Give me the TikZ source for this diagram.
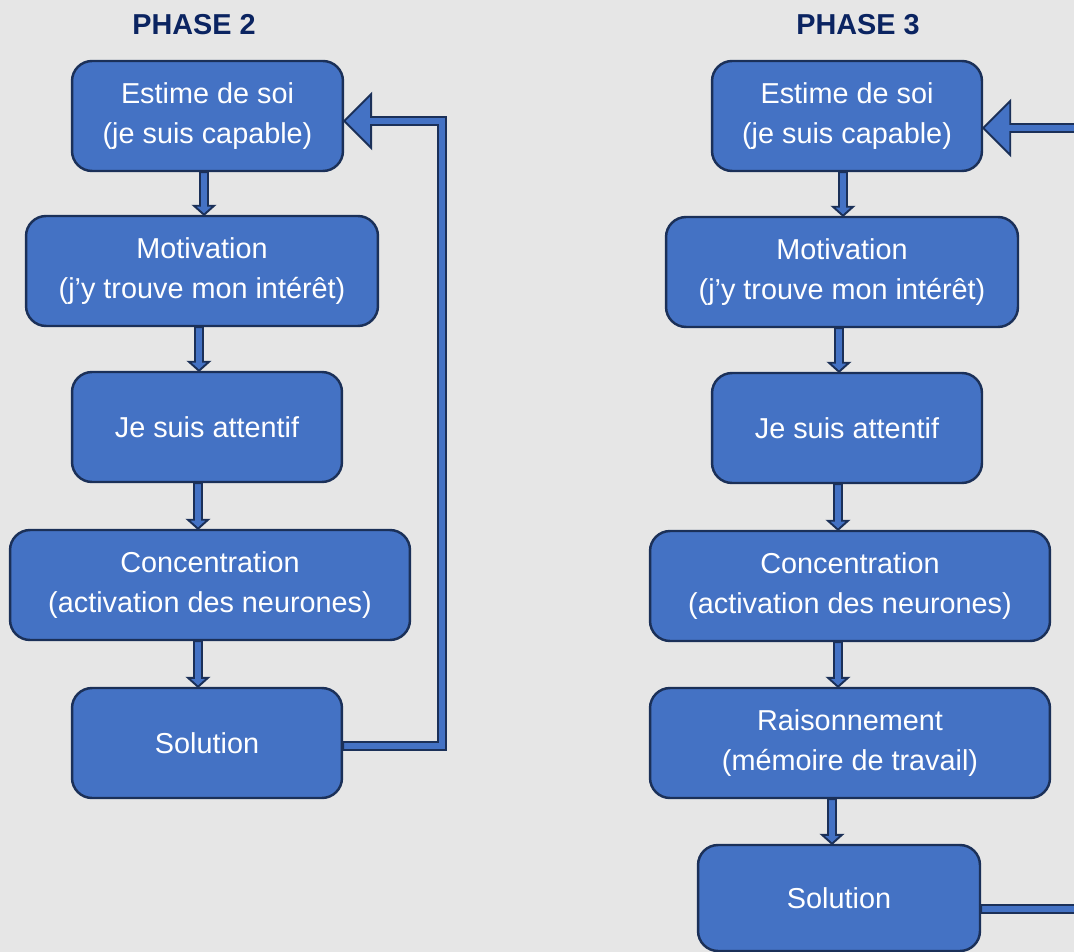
\documentclass[tikz,border=0pt]{standalone}
\usepackage{fontspec}
\setmainfont{Liberation Sans}
\usetikzlibrary{calc}
\definecolor{bgrey}{HTML}{E6E6E6}
\definecolor{boxblue}{HTML}{4472C4}
\definecolor{boxline}{HTML}{1B3058}
\definecolor{titleblue}{HTML}{0B2461}

% block arrow pointing down, from the bottom of #1 to the top of #2, shifted by #3
\newcommand{\blockdown}[3]{%
  \path ($(#1.south)+(#3,0)$) coordinate (bd1);
  \path (bd1 |- #2.north) coordinate (bd2);
  \draw[blk] ($(bd1)+(-4,0)$) -- ($(bd2)+(-4,-9)$) -- ($(bd2)+(-10,-9)$) -- (bd2)
    -- ($(bd2)+(10,-9)$) -- ($(bd2)+(4,-9)$) -- ($(bd1)+(4,0)$) -- cycle;}
% block arrow from the right of #1 round column #3 back into the right of #2
\newcommand{\blockloop}[5]{%
  \path ($(#1.east)+(0,#4)$) coordinate (bl1) ($(#2.east)+(0,#5)$) coordinate (bl2);
  \draw[blk] ($(bl1)+(0,-4)$) -- ($(bl1 -| #3)+(-4,-4)$) -- ($(bl2 -| #3)+(-4,4)$)
    -- ($(bl2)+(27,4)$) -- ($(bl2)+(27,27)$) -- (bl2) -- ($(bl2)+(27,-27)$)
    -- ($(bl2)+(27,-4)$) -- ($(bl2 -| #3)+(4,-4)$) -- ($(bl1 -| #3)+(4,4)$)
    -- ($(bl1)+(0,4)$) -- cycle;}

\begin{document}
\begin{tikzpicture}[x=0.02cm,y=-0.02cm,
  box/.style={draw=boxline,fill=boxblue,line width=1.4pt,rounded corners=0.4cm,align=center,
    text=white,font=\fontsize{16.4}{23.2}\selectfont,minimum height=2.2cm,inner sep=0pt},
  blk/.style={draw=boxline,fill=boxblue,line width=1.1pt,line join=miter},
  phase/.style={font=\fontsize{16.4}{20}\selectfont\bfseries,text=titleblue}]
\useasboundingbox (0,0) rectangle (1074,952);
\fill[bgrey] (0,0) rectangle (1074,952);
\clip (0,0) rectangle (1074,952);
% phase 2
\node[phase] (p2) at (194,25) {PHASE 2};
\node[box,minimum width=5.42cm] (est2) at (207.5,116) {Estime de soi\\(je suis capable)};
\node[box,minimum width=7.04cm] (mot2) at (202,271) {Motivation\\(j’y trouve mon intérêt)};
\node[box,minimum width=5.4cm] (att2) at (207,427) {Je suis attentif};
\node[box,minimum width=8cm] (con2) at (210,585) {Concentration\\(activation des neurones)};
\node[box,minimum width=5.4cm] (sol2) at (207,743) {Solution};
\coordinate (colL) at (442,0);
\blockdown{est2}{mot2}{-3.5}
\blockdown{mot2}{att2}{-3}
\blockdown{att2}{con2}{-9}
\blockdown{con2}{sol2}{-12}
\blockloop{sol2}{est2}{colL}{3}{5}
% phase 3
\node[phase] (p3) at (858,25) {PHASE 3};
\node[box,minimum width=5.4cm] (est3) at (847,116) {Estime de soi\\(je suis capable)};
\node[box,minimum width=7.04cm] (mot3) at (842,272) {Motivation\\(j’y trouve mon intérêt)};
\node[box,minimum width=5.4cm] (att3) at (847,428) {Je suis attentif};
\node[box,minimum width=8cm] (con3) at (850,586) {Concentration\\(activation des neurones)};
\node[box,minimum width=8cm] (rai3) at (850,743) {Raisonnement\\(mémoire de travail)};
\node[box,minimum width=5.64cm,minimum height=2.12cm] (sol3) at (839,898) {Solution};
\coordinate (colR) at (1110,0);
\blockdown{est3}{mot3}{-4}
\blockdown{mot3}{att3}{-3}
\blockdown{att3}{con3}{-9}
\blockdown{con3}{rai3}{-12}
\blockdown{rai3}{sol3}{-18}
\blockloop{sol3}{est3}{colR}{11}{12}
\end{tikzpicture}
\end{document}
